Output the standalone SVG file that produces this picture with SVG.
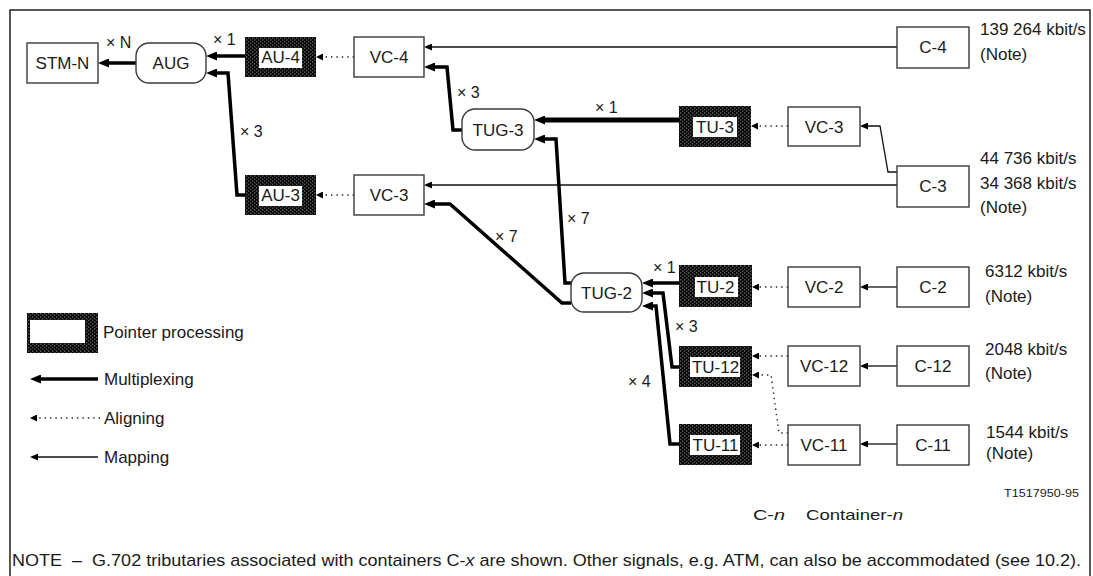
<svg xmlns="http://www.w3.org/2000/svg" width="1093" height="576" viewBox="0 0 1093 576">
<style>
text{font-family:"Liberation Sans",Arial,sans-serif;fill:#1a1a1a}
.lb{font-size:17px;text-anchor:middle}
.rt{font-size:17px}
.mul{font-size:16px}
.box{fill:#fff;stroke:#3a3a3a;stroke-width:1.4}
.inner{fill:#fff;stroke:none}
.thick{fill:none;stroke:#000;stroke-width:3.5;marker-end:url(#mx)}
.thin{fill:none;stroke:#111;stroke-width:1.3;marker-end:url(#mp)}
.dot{fill:none;stroke:#222;stroke-width:1.4;stroke-dasharray:1.4 4;marker-end:url(#al)}
</style>
<defs>
<pattern id="hatch" width="4" height="3.4" patternUnits="userSpaceOnUse">
<rect width="4" height="3.4" fill="#000"/>
<rect x="0.3" y="0.4" width="1" height="0.9" fill="#ddd"/>
<rect x="2.3" y="2.1" width="1" height="0.9" fill="#ddd"/>
</pattern>
<marker id="mx" viewBox="0 0 11 9" markerWidth="11" markerHeight="9" refX="4" refY="4.5" orient="auto" markerUnits="userSpaceOnUse"><path d="M0,0 L11,4.5 L0,9 z" fill="#000"/></marker>
<marker id="mp" viewBox="0 0 8 7" markerWidth="8" markerHeight="7" refX="1" refY="3.5" orient="auto" markerUnits="userSpaceOnUse"><path d="M0,0 L8,3.5 L0,7 z" fill="#000"/></marker>
<marker id="al" viewBox="0 0 7 7" markerWidth="7" markerHeight="7" refX="0" refY="3.5" orient="auto" markerUnits="userSpaceOnUse"><path d="M0,0 L7,3.5 L0,7 z" fill="#000"/></marker>
</defs>
<rect x="0" y="0" width="1093" height="576" fill="#fff"/>
<rect x="10" y="10" width="1080" height="620" fill="none" stroke="#222" stroke-width="1.5"/>

<g id="connectors">
<path class="thick" d="M136,63 L105,63"/>
<path class="thick" d="M245,56 L213,56"/>
<path class="thick" d="M245,195 L237,195 L228,73 L213,73"/>
<path class="dot" d="M354,57 L323,57"/>
<path class="dot" d="M354,195 L323,195"/>
<path class="thin" d="M897,47 L431,47"/>
<path class="thick" d="M462,130 L453,130 L447,67 L431,67"/>
<path class="thin" d="M897,185 L431,185"/>
<path class="thick" d="M571,303 L562,303 L450,204 L431,204"/>
<path class="thick" style="stroke-width:5" d="M679,120 L541,120"/>
<path class="dot" d="M788,126 L758,126"/>
<path class="thin" d="M897,172 L888,172 L880,126 L867,126"/>
<path class="thick" d="M571,283 L565,283 L556,139 L541,139"/>
<path class="thick" d="M679,283 L649,283"/>
<path class="thick" d="M679,367 L672,367 L663,293 L649,293"/>
<path class="thick" d="M679,444 L670,444 L656,306 L649,306"/>
<path class="dot" d="M788,287 L759,287"/>
<path class="dot" d="M788,356 L759,356"/>
<path class="dot" d="M788,433 L779,433 L771,375 L759,375"/>
<path class="dot" d="M788,445 L759,445"/>
<path class="thin" d="M897,287 L867,287"/>
<path class="thin" d="M897,366 L867,366"/>
<path class="thin" d="M897,444 L867,444"/>
<text class="mul" x="106" y="48">× N</text>
<text class="mul" x="213" y="45">× 1</text>
<text class="mul" x="240" y="137">× 3</text>
<text class="mul" x="457" y="98">× 3</text>
<text class="mul" x="595" y="113">× 1</text>
<text class="mul" x="567" y="224">× 7</text>
<text class="mul" x="495" y="242">× 7</text>
<text class="mul" x="653" y="273">× 1</text>
<text class="mul" x="675" y="332">× 3</text>
<text class="mul" x="628" y="387">× 4</text>
</g>

<g id="stm-n"><rect class="box" x="27" y="43" width="71" height="40"/><text class="lb" x="62.5" y="69">STM-N</text></g>
<g id="aug"><rect class="box" x="136" y="43" width="70" height="40" rx="13"/><text class="lb" x="171" y="69">AUG</text></g>
<g id="au-4"><rect x="245" y="37" width="71" height="40" fill="url(#hatch)"/><rect class="inner" x="259" y="48" width="43" height="20"/><text class="lb" x="280.5" y="63">AU-4</text></g>
<g id="vc-4"><rect class="box" x="354" y="37" width="70" height="40"/><text class="lb" x="389" y="63">VC-4</text></g>
<g id="au-3"><rect x="245" y="175" width="71" height="40" fill="url(#hatch)"/><rect class="inner" x="259" y="186" width="43" height="20"/><text class="lb" x="280.5" y="201">AU-3</text></g>
<g id="vc-3a"><rect class="box" x="354" y="175" width="70" height="40"/><text class="lb" x="389" y="201">VC-3</text></g>
<g id="tug-3"><rect class="box" x="462" y="109" width="72" height="41" rx="13"/><text class="lb" x="498" y="135.5">TUG-3</text></g>
<g id="tu-3"><rect x="679" y="106" width="72" height="41" fill="url(#hatch)"/><rect class="inner" x="693" y="117" width="44" height="20"/><text class="lb" x="715" y="132.5">TU-3</text></g>
<g id="vc-3b"><rect class="box" x="788" y="107" width="72" height="39"/><text class="lb" x="824" y="132.5">VC-3</text></g>
<g id="c-4"><rect class="box" x="897" y="27" width="72" height="41"/><text class="lb" x="933" y="53">C-4</text><text class="rt" x="980" y="35">139 264 kbit/s</text><text class="rt" x="980" y="60">(Note)</text></g>
<g id="c-3"><rect class="box" x="897" y="166" width="72" height="41"/><text class="lb" x="933" y="192">C-3</text><text class="rt" x="980" y="164">44 736 kbit/s</text><text class="rt" x="980" y="189">34 368 kbit/s</text><text class="rt" x="980" y="213">(Note)</text></g>
<g id="tug-2"><rect class="box" x="571" y="273" width="71" height="39" rx="13"/><text class="lb" x="606.5" y="298.5">TUG-2</text></g>
<g id="tu-2"><rect x="679" y="265" width="73" height="42" fill="url(#hatch)"/><rect class="inner" x="695" y="277" width="43" height="20"/><text class="lb" x="715.5" y="292.5">TU-2</text></g>
<g id="vc-2"><rect class="box" x="788" y="267" width="72" height="40"/><text class="lb" x="824" y="293">VC-2</text></g>
<g id="c-2"><rect class="box" x="897" y="267" width="72" height="40"/><text class="lb" x="933" y="293">C-2</text><text class="rt" x="985" y="277">6312 kbit/s</text><text class="rt" x="985" y="302">(Note)</text></g>
<g id="tu-12"><rect x="679" y="346" width="73" height="41" fill="url(#hatch)"/><rect class="inner" x="690" y="357" width="50" height="20"/><text class="lb" x="715.5" y="372.5">TU-12</text></g>
<g id="vc-12"><rect class="box" x="788" y="346" width="72" height="40"/><text class="lb" x="824" y="372">VC-12</text></g>
<g id="c-12"><rect class="box" x="897" y="346" width="72" height="40"/><text class="lb" x="933" y="372">C-12</text><text class="rt" x="985" y="355">2048 kbit/s</text><text class="rt" x="985" y="379">(Note)</text></g>
<g id="tu-11"><rect x="679" y="424" width="73" height="41" fill="url(#hatch)"/><rect class="inner" x="690" y="435" width="50" height="20"/><text class="lb" x="715.5" y="450.5">TU-11</text></g>
<g id="vc-11"><rect class="box" x="788" y="425" width="72" height="40"/><text class="lb" x="824" y="451">VC-11</text></g>
<g id="c-11"><rect class="box" x="897" y="425" width="72" height="40"/><text class="lb" x="933" y="451">C-11</text><text class="rt" x="986" y="438">1544 kbit/s</text><text class="rt" x="986" y="459">(Note)</text></g>

<g id="legend">
<rect x="27" y="313" width="71" height="40" fill="url(#hatch)"/><rect class="inner" x="30" y="320" width="55" height="23"/>
<text class="rt" x="103" y="338">Pointer processing</text>
<path class="thick" d="M98,379 L37,379"/>
<text class="rt" x="104" y="385">Multiplexing</text>
<path class="dot" d="M100,418 L37,418"/>
<text class="rt" x="104" y="424">Aligning</text>
<path class="thin" d="M98,457 L37,457"/>
<text class="rt" x="104" y="463">Mapping</text>
</g>

<g id="footer">
<text x="1004" y="497" font-size="11" textLength="75" lengthAdjust="spacingAndGlyphs">T1517950-95</text>
<text x="753" y="520" font-size="15" textLength="32" lengthAdjust="spacingAndGlyphs">C-<tspan font-style="italic">n</tspan></text>
<text x="806" y="520" font-size="15" textLength="97" lengthAdjust="spacingAndGlyphs">Container-<tspan font-style="italic">n</tspan></text>
<text x="12" y="566" font-size="17" textLength="1069" lengthAdjust="spacingAndGlyphs">NOTE&#160;&#160;–&#160;&#160;G.702 tributaries associated with containers C-<tspan font-style="italic">x</tspan> are shown. Other signals, e.g. ATM, can also be accommodated (see 10.2).</text>
</g>
</svg>
